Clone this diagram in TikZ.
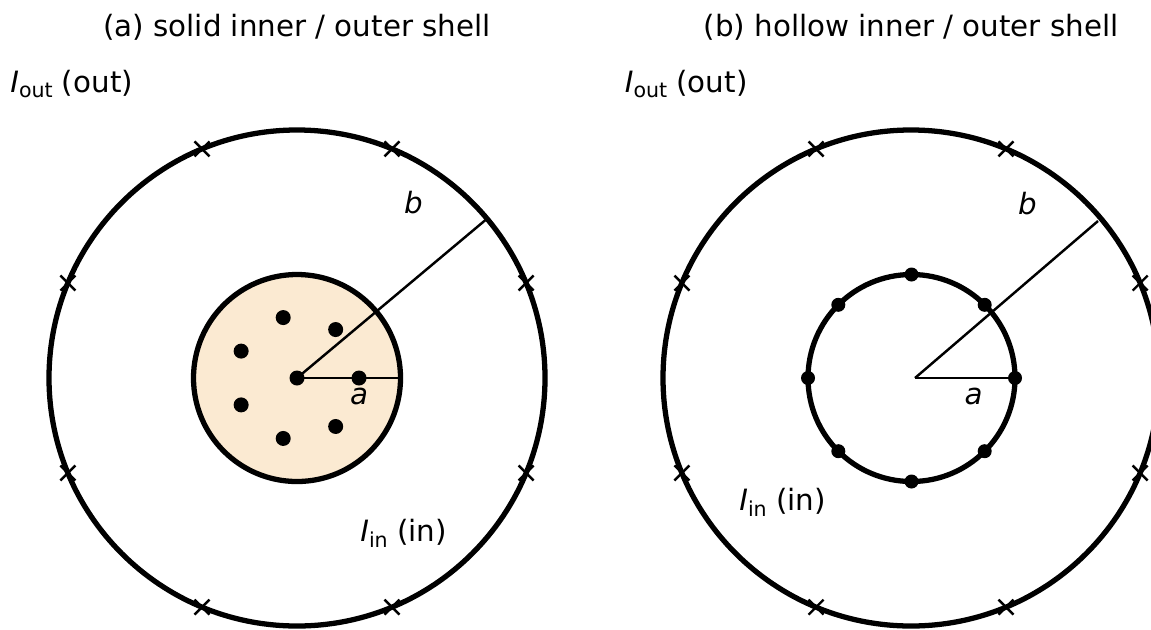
\documentclass[tikz,border=0pt]{standalone}
\usepackage{fontspec}
\setmainfont{DejaVu Sans}
\definecolor{shellfill}{RGB}{251,234,210}
\newcommand{\curlab}[1]{\textit{I}\raisebox{-0.35ex}{\fontsize{11.7}{12}\selectfont #1}}

\begin{document}
\begin{tikzpicture}[x=0.02cm, y=-0.02cm, font=\fontsize{16.7}{19}\selectfont,
	lbl/.style={inner sep=0pt},
	wire/.style={line width=3pt},
	radius line/.style={line width=1.4pt},
	crossmark/.style={line width=1.4pt}]
	\clip (0,0) rectangle (1151,629);
	% (a) solid inner conductor
	\coordinate (ca) at (297,378);
	\coordinate (aa) at (398,378);
	\coordinate (ba) at (485.5,220);
	\draw[wire, fill=shellfill] (ca) circle (103.5);
	\draw[wire] (ca) circle (248);
	\draw[radius line] (ca) -- (aa);
	\draw[radius line] (ca) -- (ba);
	\fill (ca) circle (7.5);
	\foreach \ang in {0,1,...,6} {
		\fill (ca) ++({\ang*360/7}:62) circle (7.5);
	}
	% (b) hollow inner conductor
	\coordinate (cb) at (911.5,378);
	\coordinate (ob) at (915,378);
	\coordinate (ab) at (1017,378);
	\coordinate (bb) at (1098,221);
	\draw[wire] (cb) circle (103.5);
	\draw[wire] (911,378) circle (248);
	\draw[radius line] (ob) -- (ab);
	\draw[radius line] (ob) -- (bb);
	\foreach \ang in {0,45,...,315} {
		\fill (cb) ++(\ang:103.5) circle (7);
	}
	% return current marks on the outer shells
	\foreach \cx in {297,911} {
		\foreach \ang in {22.5,67.5,...,337.5} {
			\draw[crossmark, shift={(\cx,378)}] (\ang:248) ++(-7.5,-7.5) -- ++(15,15) ++(0,-15) -- ++(-15,15);
		}
	}
	% labels
	\node[lbl] (ta) at (297,27.5) {(a) solid inner / outer shell};
	\node[lbl] (tb) at (911,27.5) {(b) hollow inner / outer shell};
	\node[lbl, anchor=west] (outa) at (10,84) {\curlab{out} (out)};
	\node[lbl, anchor=west] (outb) at (624.5,84) {\curlab{out} (out)};
	\node[lbl] (la) at (359,396) {\textit{a}};
	\node[lbl] (lb) at (413.5,203) {\textit{b}};
	\node[lbl] (lab) at (973.5,396) {\textit{a}};
	\node[lbl] (lbb) at (1027.5,204) {\textit{b}};
	\node[lbl, anchor=west] (ina) at (360,533.5) {\curlab{in} (in)};
	\node[lbl, anchor=west] (inb) at (739,502.5) {\curlab{in} (in)};
\end{tikzpicture}
\end{document}
